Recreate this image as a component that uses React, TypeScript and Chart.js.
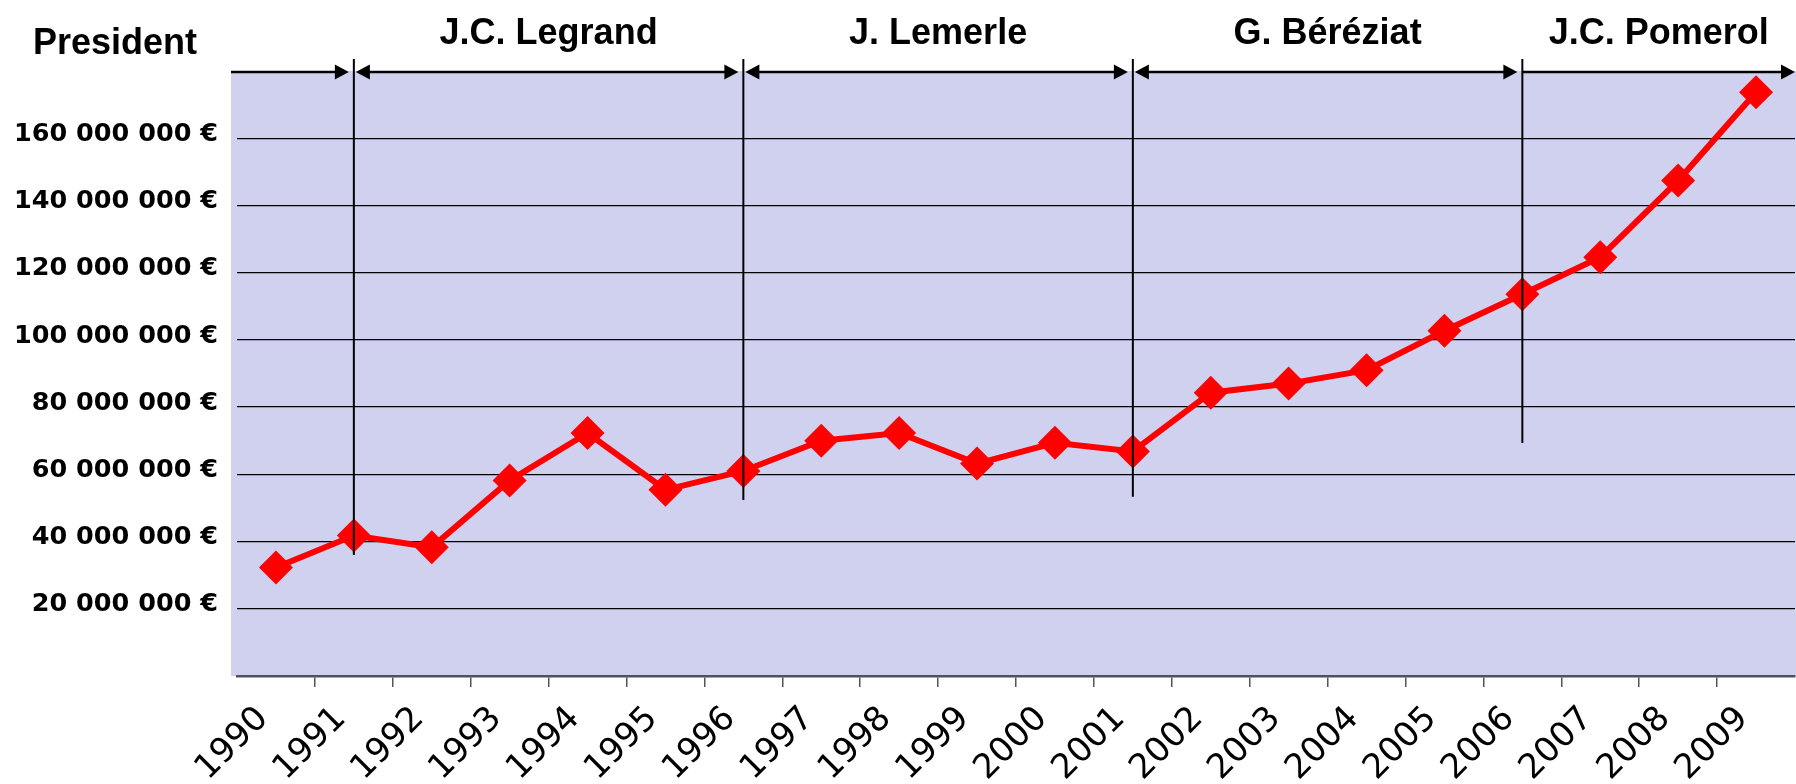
import React, { useEffect, useRef } from 'react';
import { Chart, registerables } from 'chart.js';

Chart.register(...registerables);

// ---------- data ----------
const years = [
  '1990', '1991', '1992', '1993', '1994', '1995', '1996', '1997', '1998', '1999',
  '2000', '2001', '2002', '2003', '2004', '2005', '2006', '2007', '2008', '2009',
];
const budget = [
  32300000, 41800000, 38300000, 58200000, 72300000, 55400000, 61000000, 70000000, 72300000, 63200000,
  69400000, 66800000, 84300000, 87000000, 91000000, 102700000, 113600000, 124600000, 147400000, 173700000,
];
const yTickValues = [20000000, 40000000, 60000000, 80000000, 100000000, 120000000, 140000000, 160000000];
const yMin = 0;
const yMax = 180000000;

const headerLabel = 'President';
const presidentNames = ['J.C. Legrand', 'J. Lemerle', 'G. Béréziat', 'J.C. Pomerol'];
const changeYears = ['1991', '1996', '2001', '2006'];
const changeLineEnds = [36000000, 52400000, 53300000, 69300000];

// ---------- styles ----------
const PLOT_BG = 'rgb(208,209,239)';
const RED = '#ff0000';

const formatEuro = (v: number) =>
  String(Math.round(v)).replace(/\B(?=(\d{3})+(?!\d))/g, ' ') + ' €';

export default function App() {
  const ref = useRef<HTMLCanvasElement>(null);

  useEffect(() => {
    document.body.style.margin = '0';
    const canvas = ref.current!;

    const bgPlugin = {
      id: 'plotBg',
      beforeDraw(chart: any) {
        const { ctx, chartArea: a, width } = chart;
        ctx.save();
        ctx.fillStyle = PLOT_BG;
        ctx.fillRect(a.left - 6, a.top, width - (a.left - 6), a.bottom - a.top);
        ctx.restore();
      },
    };

    const drawHead = (ctx: CanvasRenderingContext2D, tipX: number, y: number, dir: number) => {
      const len = 14;
      const half = 7.5;
      ctx.beginPath();
      ctx.moveTo(tipX, y);
      ctx.lineTo(tipX - dir * len, y - half);
      ctx.lineTo(tipX - dir * len, y + half);
      ctx.closePath();
      ctx.fill();
    };

    const presPlugin = {
      id: 'presidents',
      afterDraw(chart: any) {
        const { ctx, chartArea: a, width, scales } = chart;
        const xs = scales.x;
        const ys = scales.y;
        const lineXs = changeYears.map((yr) => xs.getPixelForValue(years.indexOf(yr)));
        ctx.save();
        ctx.strokeStyle = '#000';
        ctx.fillStyle = '#000';

        // vertical separators
        ctx.lineWidth = 2;
        lineXs.forEach((x, i) => {
          ctx.beginPath();
          ctx.moveTo(x, a.top - 12);
          ctx.lineTo(x, ys.getPixelForValue(changeLineEnds[i]));
          ctx.stroke();
        });

        // arrows
        const arrowY = a.top + 1;
        const starts = [a.left - 6, ...lineXs];
        const ends = [...lineXs, width - 1];
        const n = starts.length;
        ctx.lineWidth = 2.5;
        for (let i = 0; i < n; i++) {
          const s = starts[i];
          const e = ends[i];
          const leftHead = i > 0 && i < n - 1;
          const x0 = leftHead ? s + 2 : s;
          const x1 = i === n - 1 ? e : e - 5;
          ctx.beginPath();
          ctx.moveTo(x0 + (leftHead ? 6 : 0), arrowY);
          ctx.lineTo(x1 - 6, arrowY);
          ctx.stroke();
          drawHead(ctx, x1, arrowY, 1);
          if (leftHead) drawHead(ctx, x0, arrowY, -1);
        }

        // names
        ctx.font = 'bold 36px "Liberation Sans", Arial, sans-serif';
        ctx.textBaseline = 'middle';
        ctx.textAlign = 'center';
        for (let i = 1; i < n; i++) {
          ctx.fillText(presidentNames[i - 1], (starts[i] + ends[i]) / 2, 34);
        }
        ctx.textAlign = 'left';
        ctx.fillText(headerLabel, 33, 44);
        ctx.restore();
      },
    };

    const chart = new Chart(canvas, {
      type: 'line',
      data: {
        labels: years,
        datasets: [
          {
            data: budget,
            borderColor: RED,
            backgroundColor: RED,
            borderWidth: 6,
            tension: 0,
            pointStyle: 'rectRot',
            pointRadius: 17,
            pointBackgroundColor: RED,
            pointBorderColor: RED,
            pointBorderWidth: 0,
          },
        ],
      },
      options: {
        responsive: false,
        animation: false,
        layout: { autoPadding: false, padding: { top: 71, right: 1, left: 0, bottom: 0 } },
        plugins: {
          legend: { display: false },
          tooltip: { enabled: false },
          title: { display: false },
        },
        scales: {
          x: {
            type: 'category',
            offset: true,
            afterFit: (s: any) => {
              s.height = 108;
              s.paddingLeft = 0;
              s.paddingRight = 0;
            },
            border: { display: true, color: '#50505e', width: 2.5 },
            grid: {
              offset: true,
              drawOnChartArea: false,
              drawTicks: true,
              tickLength: 11,
              lineWidth: 1.5,
              color: (c: any) =>
                c.index === undefined || c.index === 0 ? 'rgba(0,0,0,0)' : '#555',
            },
            ticks: {
              autoSkip: false,
              minRotation: 45,
              maxRotation: 45,
              labelOffset: -13,
              padding: 12,
              color: '#000',
              font: { family: '"DejaVu Sans", sans-serif', size: 34, weight: 'normal' },
            },
          },
          y: {
            min: yMin,
            max: yMax,
            z: 1,
            afterFit: (s: any) => {
              s.width = 237;
            },
            afterBuildTicks: (s: any) => {
              s.ticks = yTickValues.map((v) => ({ value: v }));
            },
            border: { display: false },
            grid: { drawTicks: false, color: '#000', lineWidth: 1.3 },
            ticks: {
              padding: 19,
              labelOffset: -4,
              color: '#000',
              font: { family: '"DejaVu Sans", sans-serif', size: 25.5, weight: 'bold' },
              callback: (v: any) => formatEuro(Number(v)),
            },
          },
        },
      },
      plugins: [bgPlugin, presPlugin],
    });

    return () => chart.destroy();
  }, []);

  return (
    <div style={{ width: 1796, height: 784, overflow: 'hidden' }}>
      <canvas ref={ref} width={1796} height={784} style={{ display: 'block' }} />
    </div>
  );
}
